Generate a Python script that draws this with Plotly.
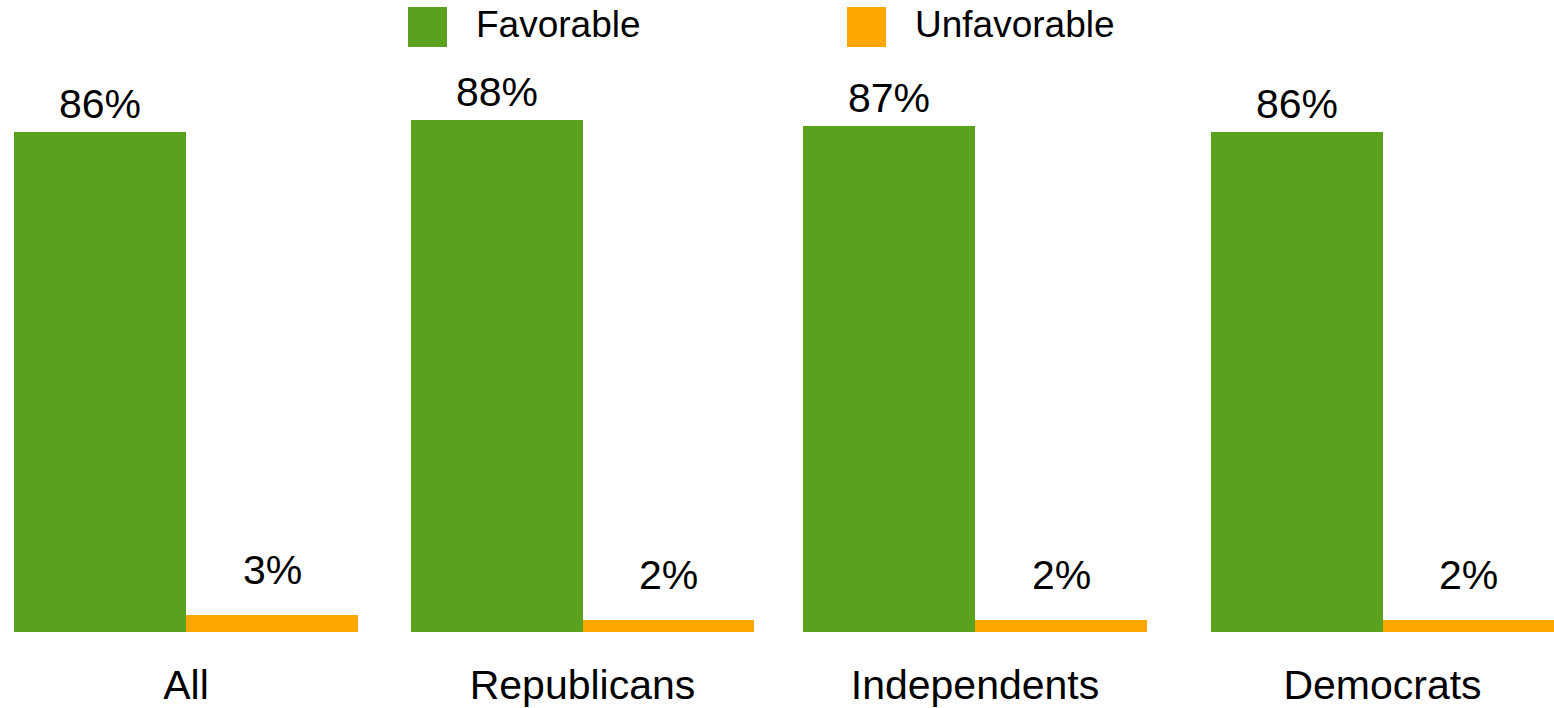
import plotly.graph_objects as go
from plotly.subplots import make_subplots

groups = ["All", "Republicans", "Independents", "Democrats"]
series_names = ["Favorable", "Unfavorable"]
favorable = [86, 88, 87, 86]
unfavorable = [3, 2, 2, 2]
colors = ["#5AA21E", "#FFA500"]

W, H = 1554, 708
T, B = 60, 76
# pixel extents of each group's plot area
group_px = [(14, 358), (411, 754), (803, 1147), (1211, 1554)]

fig = make_subplots(rows=1, cols=4, horizontal_spacing=0.0)
font_family = "Liberation Sans, Arial, sans-serif"

values = [favorable, unfavorable]
label_shift = [28, 45]
for i, g in enumerate(groups):
    col = i + 1
    for s, name in enumerate(series_names):
        v = values[s][i]
        fig.add_trace(
            go.Bar(
                x=[g], y=[v], name=name,
                marker=dict(color=colors[s], line=dict(width=0)),
                showlegend=False,
                offsetgroup=str(s),
            ),
            row=1, col=col,
        )
        xref = "x domain" if i == 0 else f"x{col} domain"
        yref = "y" if i == 0 else f"y{col}"
        fig.add_annotation(
            x=0.25 + 0.5 * s, xref=xref, y=v, yref=yref,
            text=f"{v}%", showarrow=False, xanchor="center", yanchor="middle",
            yshift=label_shift[s],
            font=dict(size=41, color="black", family=font_family),
        )

for i in range(4):
    l, r = group_px[i]
    ax = "xaxis" if i == 0 else f"xaxis{i+1}"
    ay = "yaxis" if i == 0 else f"yaxis{i+1}"
    fig.layout[ax].update(
        domain=[l / W, r / W], showgrid=False, zeroline=False, showline=False,
        ticks="", tickfont=dict(size=41, color="black", family=font_family),
        ticklabelstandoff=25,
        automargin=False, fixedrange=True,
    )
    fig.layout[ay].update(
        range=[0, 98.4], showgrid=False, zeroline=False, showline=False,
        showticklabels=False, ticks="", automargin=False, fixedrange=True,
    )

plot_h = H - T - B
def py(ypix):
    # convert pixel y (from top) to paper coordinate
    return (H - B - ypix) / plot_h

# legend drawn as shapes + text
legend_x = [408, 847]
for s, name in enumerate(series_names):
    x0 = legend_x[s]
    fig.add_shape(
        type="rect", xref="paper", yref="paper",
        x0=x0 / W, x1=(x0 + 39) / W, y0=py(47), y1=py(7),
        line=dict(width=0), fillcolor=colors[s],
    )
    fig.add_annotation(
        x=(x0 + 66) / W, xref="paper", y=py(25), yref="paper",
        text=name, showarrow=False, xanchor="left", yanchor="middle",
        font=dict(size=37, color="black", family=font_family),
    )

fig.update_layout(
    width=W, height=H,
    margin=dict(l=0, r=0, t=T, b=B, pad=0),
    barmode="group", bargap=0, bargroupgap=0,
    plot_bgcolor="white", paper_bgcolor="white",
    showlegend=False,
    font=dict(family=font_family, color="black"),
)

fig.write_html("out.html")
